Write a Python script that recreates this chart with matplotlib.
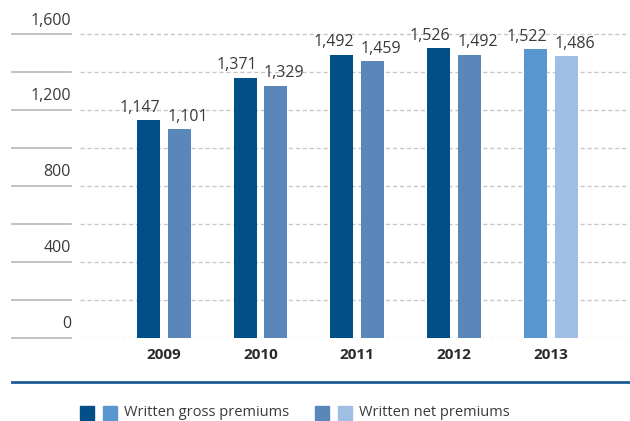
import matplotlib
matplotlib.use('Agg')
import matplotlib.pyplot as plt
from matplotlib.transforms import blended_transform_factory
from matplotlib.patches import Rectangle

plt.rcParams['font.family'] = ['Open Sans', 'DejaVu Sans']

years = ['2009', '2010', '2011', '2012', '2013']
gross = [1147, 1371, 1492, 1526, 1522]
net = [1101, 1329, 1459, 1492, 1486]
gross_colors = ['#004f88', '#004f88', '#004f88', '#004f88', '#5896cf']
net_colors = ['#5a87b9', '#5a87b9', '#5a87b9', '#5a87b9', '#a0bde3']
grid_ticks = [0, 200, 400, 600, 800, 1000, 1200, 1400, 1600]
label_ticks = [0, 400, 800, 1200, 1600]

W, H = 630, 421
fig = plt.figure(figsize=(W / 100, H / 100), dpi=100)
ax = fig.add_axes([80 / W, 1 - 338 / H, 548 / W, 318 / H])

x = list(range(len(years)))
width = 0.238
off = 0.16
ax.bar([i - off for i in x], gross, width=width, color=gross_colors, zorder=3)
ax.bar([i + off for i in x], net, width=width, color=net_colors, zorder=3)

# value labels sit a bit outward from their bars
for i in x:
    ax.annotate(f'{gross[i]:,}', (i - off, gross[i]), xytext=(-6, 3), textcoords='offset points',
                ha='center', va='bottom', fontsize=11.5, color='#3a3a3a')
    ax.annotate(f'{net[i]:,}', (i + off, net[i]), xytext=(6, 3), textcoords='offset points',
                ha='center', va='bottom', fontsize=11.5, color='#3a3a3a')

ax.set_xlim(-0.867, 4.801)
ax.set_ylim(0, 1674)

for t in grid_ticks:
    ax.axhline(t, color='#c8c8c8', lw=1, ls=(0, (3, 2)), zorder=1)

tr = blended_transform_factory(fig.transFigure, ax.transData)
for t in grid_ticks:
    ax.plot([12 / W, 71 / W], [t, t], transform=tr, color='#bdbdbd', lw=1.3, clip_on=False)
for t in label_ticks:
    ax.annotate(f'{t:,}', (71 / W, t), xycoords=tr, xytext=(0, 4), textcoords='offset points',
                ha='right', va='bottom', fontsize=11.5, color='#3a3a3a', annotation_clip=False)

ax.set_xticks(x)
ax.set_xticklabels(years, fontsize=11, fontweight='bold', color='#2a2a2a')
ax.tick_params(axis='x', length=0, pad=7)
ax.set_yticks([])
for s in ax.spines.values():
    s.set_visible(False)

# blue separator line
fig.add_artist(plt.Line2D([12 / W, 1], [1 - 381.5 / H, 1 - 381.5 / H], color='#1d5c97', lw=2))

# legend
leg_y = 1 - 420 / H
sq_w, sq_h = 14 / W, 14 / H
for x0, c in [(80, '#004f88'), (103, '#5896cf'), (315, '#5a87b9'), (338, '#a0bde3')]:
    fig.add_artist(Rectangle((x0 / W, leg_y), sq_w, sq_h, color=c, transform=fig.transFigure))
fig.text(124 / W, 1 - 413 / H, 'Written gross premiums', fontsize=10.5, color='#3a3a3a', va='center')
fig.text(359 / W, 1 - 413 / H, 'Written net premiums', fontsize=10.5, color='#3a3a3a', va='center')

fig.savefig('out.png', dpi=100)
